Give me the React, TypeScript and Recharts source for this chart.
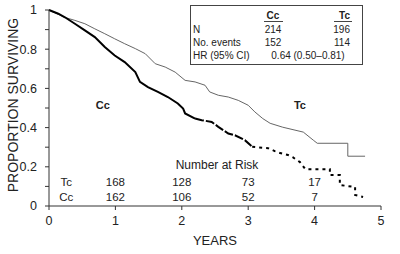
import React from 'react';
import {
  LineChart,
  Line,
  XAxis,
  YAxis,
  ReferenceDot,
} from 'recharts';

const FONT = '"Liberation Sans", Arial, Helvetica, sans-serif';

// Kaplan-Meier curves, years vs proportion surviving
const tcTimes = [0, 0.24, 0.39, 0.54, 0.69, 0.84, 0.99, 1.14, 1.3, 1.45, 1.6, 1.75, 1.9, 2.05, 2.2, 2.35, 2.42, 2.55, 2.7, 2.85, 3.0, 3.1, 3.22, 3.33, 3.52, 3.83, 3.98, 4.04, 4.5, 4.5, 4.76];
const tcSurvival = [1, 0.962, 0.947, 0.93, 0.904, 0.879, 0.853, 0.828, 0.803, 0.777, 0.726, 0.709, 0.683, 0.641, 0.633, 0.616, 0.582, 0.565, 0.556, 0.539, 0.514, 0.48, 0.446, 0.422, 0.402, 0.377, 0.336, 0.32, 0.32, 0.254, 0.254];

const ccTimes = [0, 0.14, 0.24, 0.39, 0.54, 0.69, 0.84, 0.99, 1.14, 1.3, 1.37, 1.49, 1.64, 1.79, 1.94, 2.02, 2.05, 2.2];
const ccSurvival = [1, 0.981, 0.963, 0.93, 0.896, 0.862, 0.811, 0.768, 0.734, 0.683, 0.633, 0.607, 0.582, 0.556, 0.523, 0.497, 0.472, 0.446];

// later Cc steps, where the curve breaks up
const ccMidTimes = [2.2, 2.3, 2.45, 2.55, 2.7, 2.8, 2.95, 3.06];
const ccMidSurvival = [0.446, 0.438, 0.429, 0.404, 0.37, 0.361, 0.336, 0.302];

const ccTailTimes = [3.06, 3.3, 3.4, 3.48, 3.6, 3.67, 3.78, 3.86, 4.23, 4.23, 4.38, 4.38, 4.61, 4.61, 4.73];
const ccTailSurvival = [0.302, 0.295, 0.28, 0.27, 0.26, 0.249, 0.224, 0.188, 0.188, 0.158, 0.158, 0.107, 0.097, 0.056, 0.046];

const xTicks = [0, 1, 2, 3, 4, 5];
const yTicks = [0, 0.1, 0.2, 0.3, 0.4, 0.5, 0.6, 0.7, 0.8, 0.9, 1];
const yLabels: Record<string, string> = { '0': '0', '0.2': '0.2', '0.4': '0.4', '0.6': '0.6', '0.8': '0.8', '1': '1' };

// number at risk
const riskYears = [1, 2, 3, 4];
const tcRisk = [168, 128, 73, 17];
const ccRisk = [162, 106, 52, 7];

// summary table
const groups = ['Cc', 'Tc'];
const patients = [214, 196];
const events = [152, 114];
const hazardRatio = '0.64 (0.50\u20130.81)';

const zip = (ts: number[], ss: number[]) => ts.map((t, i) => ({ t, s: ss[i] }));

const textAt = (label: string | number, opts: { size?: number; weight?: number; anchor?: string } = {}) =>
  (props: any) => (
    <text
      x={props.cx}
      y={props.cy}
      dy="0.35em"
      textAnchor={opts.anchor || 'middle'}
      fontSize={opts.size || 11.5}
      fontWeight={opts.weight || 400}
      fontFamily={FONT}
      fill="#222"
    >
      {label}
    </text>
  );

export default function App() {
  const tc = zip(tcTimes, tcSurvival);
  const cc = zip(ccTimes, ccSurvival);
  const ccMid = zip(ccMidTimes, ccMidSurvival);
  const ccTail = zip(ccTailTimes, ccTailSurvival);

  return (
    <div style={{ position: 'absolute', left: 0, top: 0, width: 400, height: 254, background: '#fff', fontFamily: FONT }}>
      <LineChart width={400} height={254} margin={{ top: 10, right: 19, left: 0, bottom: 0 }}>
        <XAxis
          dataKey="t"
          type="number"
          domain={[0, 5]}
          ticks={xTicks}
          allowDuplicatedCategory={false}
          height={48}
          tickSize={4}
          tickMargin={6}
          stroke="#333"
          tick={{ fill: '#222', fontSize: 12.5, fontFamily: FONT }}
          label={{ value: 'YEARS', position: 'insideBottom', offset: 9, fill: '#222', fontSize: 13, fontFamily: FONT }}
        />
        <YAxis
          dataKey="s"
          type="number"
          domain={[0, 1]}
          ticks={yTicks}
          width={49}
          tickSize={4}
          tickMargin={8}
          stroke="#333"
          tickFormatter={(v: number) => yLabels[String(Math.round(v * 10) / 10)] ?? ''}
          tick={{ fill: '#222', fontSize: 12.5, fontFamily: FONT }}
          label={{
            value: 'PROPORTION SURVIVING',
            angle: -90,
            position: 'insideLeft',
            offset: 13,
            dy: -3,
            style: { textAnchor: 'middle', fill: '#222', fontSize: 14, fontFamily: FONT },
          }}
        />

        <Line data={tc} dataKey="s" type="linear" stroke="#666" strokeWidth={1} dot={false} isAnimationActive={false} />
        <Line data={cc} dataKey="s" type="linear" stroke="#000" strokeWidth={2} dot={false} isAnimationActive={false} />
        <Line data={ccMid} dataKey="s" type="linear" stroke="#000" strokeWidth={2} strokeDasharray="9 2" dot={false} isAnimationActive={false} />
        <Line data={ccTail} dataKey="s" type="linear" stroke="#000" strokeWidth={2} strokeDasharray="3 4" dot={false} isAnimationActive={false} />

        <ReferenceDot x={0.81} y={0.514} r={0} shape={textAt('Cc', { size: 11, weight: 700 })} />
        <ReferenceDot x={3.78} y={0.514} r={0} shape={textAt('Tc', { size: 11, weight: 700 })} />

        <ReferenceDot x={2.53} y={0.209} r={0} shape={textAt('Number at Risk', { size: 12 })} />
        <ReferenceDot x={0.26} y={0.122} r={0} shape={textAt('Tc')} />
        <ReferenceDot x={0.26} y={0.046} r={0} shape={textAt('Cc')} />
        {riskYears.map((yr, i) => (
          <ReferenceDot key={`tc-${yr}`} x={yr} y={0.122} r={0} shape={textAt(tcRisk[i])} />
        ))}
        {riskYears.map((yr, i) => (
          <ReferenceDot key={`cc-${yr}`} x={yr} y={0.046} r={0} shape={textAt(ccRisk[i])} />
        ))}
      </LineChart>

      <svg width={400} height={254} style={{ position: 'absolute', left: 0, top: 0, pointerEvents: 'none' }}>
        <rect x={190.5} y={5.5} width={172} height={59} fill="#fff" stroke="#444" strokeWidth={1} />
        <g fontFamily={FONT} fontSize={10} fill="#222">
          <text x={273} y={19} textAnchor="middle" fontWeight={700}>{groups[0]}</text>
          <text x={350} y={19} textAnchor="end" fontWeight={700}>{groups[1]}</text>
          <line x1={264} x2={283} y1={21.5} y2={21.5} stroke="#444" />
          <line x1={334} x2={352} y1={21.5} y2={21.5} stroke="#444" />
          <text x={193} y={32.5}>N</text>
          <text x={273} y={32.5} textAnchor="middle">{patients[0]}</text>
          <text x={350} y={32.5} textAnchor="end">{patients[1]}</text>
          <text x={193} y={45.5}>No. events</text>
          <text x={273} y={45.5} textAnchor="middle">{events[0]}</text>
          <text x={350} y={45.5} textAnchor="end">{events[1]}</text>
          <text x={193} y={58.5}>HR (95% CI)</text>
          <text x={308} y={58.5} textAnchor="middle">{hazardRatio}</text>
        </g>
      </svg>
    </div>
  );
}
